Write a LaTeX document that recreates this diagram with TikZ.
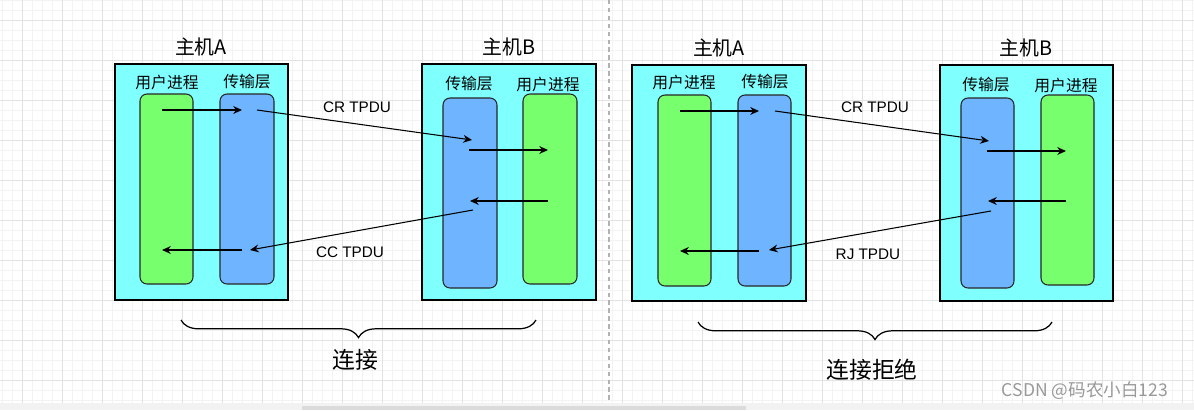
\documentclass[tikz,border=0pt]{standalone}
\usepackage{fontspec}
\setmainfont{Liberation Sans}
\newfontfamily\cjk{Noto Sans CJK SC}
\usetikzlibrary{arrows.meta}
\usetikzlibrary{fit}
\usetikzlibrary{decorations.pathreplacing}

\definecolor{hostcyan}{HTML}{80FFFF}
\definecolor{procgreen}{HTML}{78FF6E}
\definecolor{tlblue}{HTML}{6EB4FF}
\definecolor{gridmajor}{HTML}{E2E2E2}
\definecolor{gridminor}{HTML}{F3F3F3}

\tikzset{
  host/.style = {draw, line width = .8pt, fill = hostcyan, inner sep = 0pt},
  proc/.style = {draw = black!85, line width = .6pt, fill = procgreen,
    rounded corners = 4pt, inner sep = 0pt},
  tlayer/.style = {proc, fill = tlblue},
  msg/.style = {-{Stealth[length = 5pt, width = 4.5pt]}, line width = .6pt},
  hosttitle/.style = {font = \cjk\fontsize{11.3pt}{13pt}\selectfont},
  layername/.style = {font = \cjk\fontsize{9pt}{11pt}\selectfont},
  pdulabel/.style = {font = \fontsize{8.7pt}{10pt}\selectfont},
  phase/.style = {font = \cjk\fontsize{13pt}{15pt}\selectfont},
  curly/.style = {decorate, decoration = {brace, mirror, amplitude = 10pt},
    line width = .7pt},
}

\begin{document}
\begin{tikzpicture}[x = .02cm, y = -.02cm]
  \useasboundingbox (0, 0) rectangle (1194, 410);

  % background grid
  \foreach \gx in {2.3, 12.3, ..., 1194}
    \draw[gridminor, line width = .4pt] (\gx, 0) -- (\gx, 403);
  \foreach \gy in {0, 10, ..., 400}
    \draw[gridminor, line width = .4pt] (0, \gy) -- (1194, \gy);
  \foreach \gx in {22.3, 62.3, ..., 1194}
    \draw[gridmajor, line width = .5pt] (\gx, 0) -- (\gx, 403);
  \foreach \gy in {20, 60, ..., 400}
    \draw[gridmajor, line width = .5pt] (0, \gy) -- (1194, \gy);
  \fill[black!5] (0, 403) rectangle (1194, 410);
  \fill[black!14] (302, 406) rectangle (746, 410);
  \draw[black!30, dash pattern = on 2.5pt off 2pt, line width = .6pt]
  (609, 0) -- (609, 403);

  % connection
  \node[host, fit = {(115, 64) (288, 300)}] (hostA) {};
  \node[host, fit = {(422, 64) (596, 300)}] (hostB) {};
  \node[hosttitle] (titleA) at (201, 47) {主机A};
  \node[hosttitle] (titleB) at (509, 47) {主机B};

  \node[proc, fit = {(140, 94) (193, 284)}] (procA) {};
  \node[tlayer, fit = {(220, 94) (274, 284)}] (tlA) {};
  \node[tlayer, fit = {(443, 98) (497, 288)}] (tlB) {};
  \node[proc, fit = {(523, 94) (577, 284)}] (procB) {};
  \node[layername] (procAname) at (167, 82) {用户进程};
  \node[layername] (tlAname) at (247, 82) {传输层};
  \node[layername] (tlBname) at (469, 84) {传输层};
  \node[layername] (procBname) at (548, 84) {用户进程};

  \coordinate (a1) at (162, 110);
  \coordinate (a2) at (242, 110);
  \coordinate (a3) at (257, 110);
  \coordinate (b1) at (472, 140);
  \coordinate (b2) at (469, 150);
  \coordinate (b3) at (548, 150);
  \coordinate (b4) at (548, 201);
  \coordinate (b5) at (470, 201);
  \coordinate (b6) at (473, 210);
  \coordinate (a4) at (250, 250);
  \coordinate (a5) at (242, 250);
  \coordinate (a6) at (162, 250);

  \draw[msg] (a1) -- (a2);
  \draw[msg] (a3) -- (b1);
  \draw[msg] (b2) -- (b3);
  \draw[msg] (b4) -- (b5);
  \draw[msg] (b6) -- (a4);
  \draw[msg] (a5) -- (a6);

  \node[pdulabel] (cr1) at (357, 107) {CR TPDU};
  \node[pdulabel] (cc) at (350, 252) {CC TPDU};

  \coordinate (braceL1) at (181, 320);
  \coordinate (braceR1) at (536, 320);
  \draw[curly] (braceL1) -- (braceR1);
  \node[phase] (conn) at (355, 360) {连接};

  % refusal
  \node[host, fit = {(632, 65) (806, 301)}] (hostA2) {};
  \node[host, fit = {(940, 65) (1113, 301)}] (hostB2) {};
  \node[hosttitle] (titleA2) at (719, 48) {主机A};
  \node[hosttitle] (titleB2) at (1026, 48) {主机B};

  \node[proc, fit = {(658, 95) (711, 286)}] (procA2) {};
  \node[tlayer, fit = {(738, 95) (791, 286)}] (tlA2) {};
  \node[tlayer, fit = {(961, 98) (1014, 288)}] (tlB2) {};
  \node[proc, fit = {(1041, 95) (1094, 285)}] (procB2) {};
  \node[layername] (procA2name) at (684, 82) {用户进程};
  \node[layername] (tlA2name) at (765, 82) {传输层};
  \node[layername] (tlB2name) at (986, 85) {传输层};
  \node[layername] (procB2name) at (1066, 85) {用户进程};

  \coordinate (c1) at (680, 111);
  \coordinate (c2) at (759, 111);
  \coordinate (c3) at (775, 111);
  \coordinate (d1) at (989, 141);
  \coordinate (d2) at (987, 151);
  \coordinate (d3) at (1066, 151);
  \coordinate (d4) at (1066, 201);
  \coordinate (d5) at (988, 201);
  \coordinate (d6) at (991, 211);
  \coordinate (c4) at (769, 250);
  \coordinate (c5) at (759, 251);
  \coordinate (c6) at (680, 251);

  \draw[msg] (c1) -- (c2);
  \draw[msg] (c3) -- (d1);
  \draw[msg] (d2) -- (d3);
  \draw[msg] (d4) -- (d5);
  \draw[msg] (d6) -- (c4);
  \draw[msg] (c5) -- (c6);

  \node[pdulabel] (cr2) at (875, 107) {CR TPDU};
  \node[pdulabel] (rj) at (868, 254) {RJ TPDU};

  \coordinate (braceL2) at (698, 322);
  \coordinate (braceR2) at (1052, 322);
  \draw[curly] (braceL2) -- (braceR2);
  \node[phase] (refuse) at (872, 370) {连接拒绝};

  \node[font = \cjk\fontsize{10pt}{12pt}\selectfont, text = black!40]
  (mark) at (1085, 391) {CSDN @码农小白123};
\end{tikzpicture}
\end{document}
